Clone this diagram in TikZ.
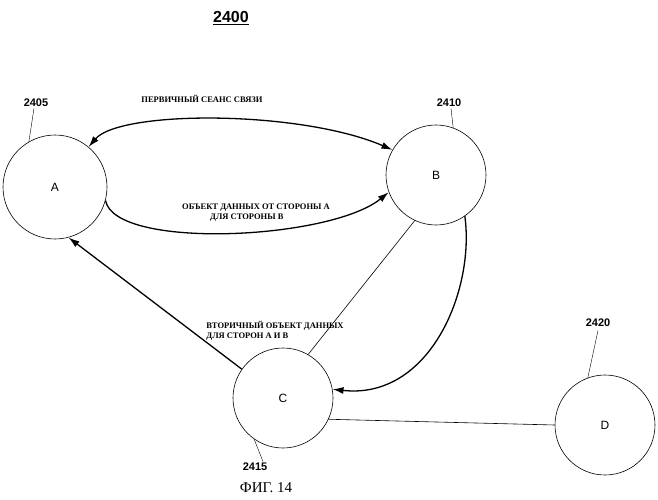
\documentclass[tikz,border=0pt]{standalone}
\usepackage{fontspec}
\setmainfont{Liberation Serif}
\setsansfont{Liberation Sans}
\usetikzlibrary{arrows.meta}
\begin{document}
\begin{tikzpicture}[x=1pt,y=-1pt,
  st/.style={circle,draw,semithick,minimum size=#1,inner sep=0pt,font=\sffamily\fontsize{12}{14}\selectfont},
  num/.style={font=\sffamily\bfseries\fontsize{11}{13}\selectfont},
  lab/.style={font=\rmfamily\bfseries\fontsize{8.5}{10}\selectfont,align=left},
  arr/.style={line width=1.3pt,-{Latex[length=11pt,width=7pt]}}]
\useasboundingbox (0,0) rectangle (658,500);
\node[font=\sffamily\bfseries\fontsize{16}{18}\selectfont] (t) at (231,18) {\underline{2400}};
\node[st=104pt] (A) at (55,187) {A};
\node[st=100pt] (B) at (436,175) {B};
\node[st=100pt] (C) at (283,398) {C};
\node[st=100pt] (D) at (605,425) {D};
\node[num] (nA) at (36,103) {2405};
\node[num] (nB) at (449,103) {2410};
\node[num] (nC) at (255,467) {2415};
\node[num] (nD) at (598,323) {2420};
\draw (nA.south) ++(-2,-2) -- (A.120);
\draw (nB.south) ++(2,-2) -- (B.70);
\draw (nC.north) ++(8,2) -- (C.235);
\draw (nD.south) -- (D.110);
\node[lab] (l1) at (202,99) {ПЕРВИЧНЫЙ СЕАНС СВЯЗИ};
\node[lab] (l2) at (256,213) {ОБЪЕКТ ДАННЫХ ОТ СТОРОНЫ А\\\hspace*{28pt}ДЛЯ СТОРОНЫ В};
\node[lab] (l3) at (275,331) {ВТОРИЧНЫЙ ОБЪЕКТ ДАННЫХ\\ДЛЯ СТОРОН А И В};
\draw[line width=1.3pt,{Latex[length=11pt,width=7pt]}-{Latex[length=11pt,width=7pt]}] (A.50) .. controls (120,110) and (300,110) .. (B.150);
\draw[arr] (A.-15) .. controls (115,250) and (330,240) .. (B.200);
\draw[arr] (C.145) -- (A.-75);
\draw[semithick] (B.-115) -- (C.60);
\draw[arr] (B.-55) .. controls (475,290) and (430,400) .. (C.10);
\draw[semithick] (C.-25) -- (D.180);
\node[font=\rmfamily\fontsize{15}{17}\selectfont] (cap) at (266,488) {ФИГ. 14};
\end{tikzpicture}
\end{document}
